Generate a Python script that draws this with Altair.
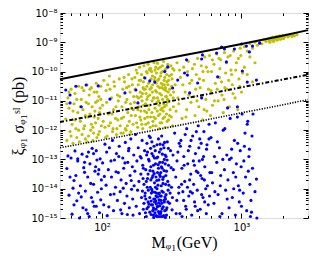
import altair as alt
import pandas as pd

# ---- data: (mass in GeV, log10 of xi*sigma in pb) ----
blue_pts = [
    (56,-13.31),(58,-14.22),(60,-12.95),(61,-14.87),(63,-13.72),(64,-12.71),(66,-14.41),(67,-13.05),(69,-15.0),(70,-13.9),
    (72,-12.82),(73,-14.65),(75,-13.44),(76,-14.08),(78,-12.9),(79,-13.6),(81,-14.95),(82,-13.15),(84,-14.3),(85,-12.62),
    (87,-13.85),(88,-14.6),(90,-13.25),(91,-12.7),(93,-14.12),(94,-13.5),(96,-14.82),(97,-12.98),(99,-13.7),(62,-13.98),
    (68,-14.15),(74,-13.28),(80,-12.75),(86,-14.45),(92,-13.02),(98,-14.38),(57,-12.88),(65,-13.55),(77,-14.72),(89,-13.4),
    (101,-13.12),(103,-14.55),(105,-12.48),(107,-13.88),(109,-14.92),(111,-13.35),(113,-12.6),(115,-14.2),(117,-13.6),(119,-12.35),
    (121,-14.75),(123,-13.02),(125,-13.95),(127,-12.8),(129,-14.4),(131,-13.45),(133,-12.55),(135,-14.1),(137,-13.7),(139,-14.85),
    (141,-12.95),(143,-13.3),(145,-14.5),(147,-12.42),(149,-13.82),(151,-14.25),(153,-13.1),(155,-12.7),(157,-14.65),(159,-13.55),
    (161,-12.3),(163,-14.02),(165,-13.25),(167,-14.9),(169,-12.85),
    (59,-13.6),(63,-14.55),(67,-12.98),(71,-14.28),(75,-13.1),(79,-14.85),(83,-13.82),(87,-12.8),(91,-14.6),(95,-13.35),
    (99,-14.0),(104,-13.58),(108,-12.75),(112,-14.62),(116,-13.05),(122,-14.18),(126,-13.42),(132,-12.9),(136,-14.72),(142,-13.98),
    (146,-13.12),(152,-14.88),(156,-12.62),(162,-13.72),(166,-14.35),(170,-13.9),
    (172,-13.4),(174,-12.15),(176,-14.6),(178,-13.05),(180,-14.05),(182,-12.6),(184,-13.75),(186,-14.85),(188,-12.9),(190,-13.5),
    (192,-14.3),(194,-12.35),(196,-13.2),(198,-14.7),(200,-13.85),(202,-12.7),(204,-14.15),(206,-13.35),(208,-14.95),(210,-12.45),
    (212,-13.65),(214,-14.45),(216,-13.0),(218,-12.2),(220,-14.8),(222,-13.95),(224,-13.25),(226,-14.55),(228,-12.8),(230,-14.1),
    (232,-13.55),(234,-14.9),(236,-12.55),(238,-13.8),(240,-14.35),(242,-13.15),(244,-14.7),(246,-12.95),(248,-14.0),(250,-13.45),
    (252,-14.6),(254,-12.3),(256,-13.7),(258,-14.85),(260,-13.1),(262,-14.25),(264,-12.65),(266,-13.9),(268,-14.5),(270,-13.3),
    (272,-14.95),(274,-12.5),(276,-13.6),(278,-14.4),(280,-13.0),(282,-14.75),(284,-12.85),(286,-13.85),(288,-14.2),(290,-13.4),
    (292,-14.65),(294,-12.4),(296,-13.75),(298,-14.05),(300,-13.2),(305,-14.5),(310,-12.7),(315,-13.95),(320,-14.3),(325,-13.35),
    (215,-14.62),(225,-14.88),(235,-14.35),(245,-14.92),(255,-14.48),(265,-14.78),(275,-14.12),(285,-14.98),(230,-14.55),(250,-14.28),
    (270,-14.68),(240,-14.82),(260,-14.58),(220,-14.3),(210,-14.68),(280,-14.45),(290,-14.9),(200,-14.5),(195,-14.08),(246,-14.15),
    (256,-14.95),(236,-14.7),(266,-14.25),(226,-14.15),(206,-14.35),
    (214,-13.5),(224,-13.7),(234,-13.2),(244,-13.6),(254,-13.3),(264,-13.45),(274,-13.82),(284,-13.15),(238,-12.95),(248,-12.5),
    (258,-12.75),(268,-12.2),(228,-12.4),(218,-13.05),(208,-13.75),(278,-12.6),(288,-12.9),(198,-13.3),(242,-13.95),(262,-13.58),
    (252,-13.88),(232,-13.4),(272,-13.1),(222,-12.25),(212,-12.75),
    (191,-12.95),(197,-13.65),(203,-14.25),(209,-12.85),(211,-13.95),(217,-14.52),(221,-13.38),(223,-12.62),(227,-14.02),(229,-13.62),
    (231,-14.75),(233,-12.88),(237,-13.48),(239,-14.12),(241,-12.7),(243,-14.42),(247,-13.72),(249,-14.62),(251,-12.92),(253,-13.18),
    (257,-14.38),(259,-13.52),(261,-12.48),(263,-14.85),(267,-13.25),(269,-14.08),(271,-12.82),(273,-13.68),(277,-14.92),(279,-13.38),
    (281,-12.42),(283,-14.28),(287,-13.55),(289,-14.72),(293,-13.02),(297,-14.45),(299,-12.62),(302,-13.88),(308,-14.15),(313,-13.28),
    (318,-14.72),(323,-12.85),(205,-14.82),(215,-14.05),(225,-14.42),(235,-14.98),(245,-14.52),(255,-14.18),(265,-14.95),(275,-14.62),
    (285,-14.35),(244,-14.25),(254,-14.78),(234,-14.65),(264,-14.4),(248,-14.95),(258,-14.15),(238,-14.45),
    (332,-12.1),(338,-13.6),(344,-14.4),(350,-12.75),(356,-13.95),(362,-14.85),(368,-12.35),(374,-13.3),(380,-14.1),(386,-12.9),
    (392,-13.75),(398,-14.6),(405,-11.95),(412,-13.15),(419,-14.25),(426,-12.55),(433,-13.5),(440,-14.9),(447,-12.2),(454,-13.85),
    (461,-14.45),(468,-12.8),(475,-13.4),(482,-14.05),(490,-11.85),(498,-13.05),(506,-14.7),(514,-12.45),(522,-13.65),(530,-14.3),
    (538,-12.05),(546,-13.25),(554,-14.0),(562,-12.65),(570,-13.9),(578,-14.55),(586,-11.8),(594,-13.45),(345,-13.05),(365,-12.55),
    (385,-14.4),(410,-13.95),(435,-12.35),(460,-13.2),(485,-14.75),(510,-13.55),(535,-12.9),(560,-14.85),(585,-12.3),(355,-14.15),
    (395,-12.15),(445,-14.15),(495,-12.6),(545,-14.45),(375,-14.95),(425,-13.7),(475,-12.05),(525,-13.0),
    (340,-14.85),(358,-12.45),(372,-13.85),(388,-13.2),(402,-14.7),(416,-12.7),(430,-14.1),(452,-13.05),(466,-14.6),(488,-13.45),
    (502,-12.3),(518,-14.2),(542,-13.7),(566,-12.5),(590,-14.25),(612,-13.45),(645,-14.1),(672,-12.4),(705,-13.9),(735,-13.0),
    (790,-14.35),(850,-12.65),(910,-13.6),(970,-14.05),(1040,-13.05),(1140,-12.65),(1200,-13.3),(1160,-14.95),
    (605,-12.25),(620,-13.8),(635,-14.5),(650,-11.75),(665,-13.1),(680,-14.2),(695,-12.6),(710,-13.55),(725,-14.85),(740,-12.0),
    (755,-13.35),(770,-14.05),(785,-12.85),(800,-13.7),(815,-14.65),(830,-11.6),(845,-12.95),(860,-14.3),(875,-13.45),(890,-12.35),
    (905,-14.9),(920,-13.15),(935,-11.55),(950,-13.9),(965,-14.45),(980,-12.7),(995,-13.25),(1010,-11.45),(1030,-14.15),(1050,-12.55),
    (1070,-13.6),(1090,-14.75),(1110,-11.7),(1130,-12.9),(1150,-13.85),(1170,-14.4),(1190,-12.2),(1210,-11.45),(1250,-14.1),(1290,-15.0),
    (640,-12.9),(700,-14.95),(760,-11.95),(820,-13.0),(880,-14.0),(940,-12.45),(1000,-14.6),(1060,-12.1),(1120,-13.4),(1180,-14.8),
    (1280,-13.67),(1100,-11.8),
]

blue_high_pts = [
    (55,-10.63),(59,-10.8),(65,-10.5),(71,-11.2),(77,-10.46),(94,-10.49),(114,-10.94),(146,-10.73),(175,-10.63),(181,-11.07),
    (203,-10.22),(220,-10.32),(239,-10.36),(282,-10.0),(296,-9.84),(321,-10.56),(349,-10.29),(391,-10.05),(59,-11.07),
    (404,-9.6),(518,-9.57),(663,-9.37),(755,-9.23),(1000,-9.06),(1140,-9.33),(780,-9.67),(1015,-9.98),(1280,-10.29),(1100,-10.36),
    (675,-10.18),(410,-10.12),(485,-10.39),(935,-11.2),(795,-11.24),(518,-10.9),(425,-10.73),(525,-9.43),(720,-9.16),(890,-9.23),
    (1085,-9.13),(1200,-9.13),(1350,-9.03),
]

yellow_pts = [
    (55,-11.62),(56,-12.35),(57,-10.9),(58,-11.25),(59,-12.05),(60,-10.6),(61,-11.8),(62,-12.45),(63,-11.1),(64,-10.75),
    (65,-11.95),(66,-12.25),(67,-11.4),(68,-10.5),(69,-12.4),(70,-11.7),(71,-10.95),(72,-12.15),(73,-11.3),(74,-10.65),
    (75,-11.85),(76,-12.3),(77,-11.05),(78,-10.45),(79,-11.55),(80,-12.2),(81,-10.8),(82,-11.45),(83,-12.0),(84,-10.55),
    (85,-11.2),(86,-11.9),(87,-12.1),(88,-10.7),(89,-11.35),(90,-11.75),(91,-10.4),(92,-12.25),(93,-11.0),(94,-11.6),
    (95,-10.85),(96,-12.05),(97,-11.25),(98,-10.5),(99,-11.85),
    (56,-11.1),(58,-10.7),(60,-12.2),(62,-11.35),(64,-11.65),(66,-10.95),(68,-12.0),(70,-11.2),(72,-10.55),(74,-11.95),
    (76,-11.5),(78,-12.4),(80,-11.1),(82,-10.6),(84,-11.8),(86,-12.35),(88,-11.55),(90,-11.05),(92,-10.7),(94,-12.15),
    (96,-11.4),(98,-10.95),
    (101,-11.15),(103,-10.3),(105,-11.9),(107,-10.65),(109,-12.2),(111,-11.45),(113,-10.15),(115,-11.75),(117,-10.9),(119,-12.05),
    (121,-11.3),(123,-10.5),(125,-11.6),(127,-12.15),(129,-10.8),(131,-11.0),(133,-10.25),(135,-11.85),(137,-12.1),(139,-11.2),
    (141,-10.6),(143,-11.55),(145,-10.35),(147,-11.95),(149,-12.0),(151,-10.95),(153,-11.4),(155,-10.1),(157,-11.7),(159,-10.7),
    (161,-12.05),(163,-11.25),(165,-10.45),(167,-11.8),(169,-10.85),(110,-10.45),(130,-11.65),(150,-10.55),(160,-11.1),(120,-11.95),
    (102,-11.7),(106,-12.25),(108,-11.05),(112,-11.85),(114,-10.6),(118,-11.45),(122,-10.35),(126,-11.2),(128,-11.95),(134,-10.85),
    (138,-11.6),(142,-12.1),(144,-10.2),(148,-11.05),(152,-11.85),(156,-10.5),(158,-12.15),(162,-11.5),(164,-10.25),(168,-11.3),
    (172,-10.2),(174,-11.5),(176,-9.95),(178,-10.85),(180,-11.9),(182,-10.45),(184,-11.2),(186,-9.85),(188,-10.7),(190,-11.65),
    (192,-10.1),(194,-11.0),(196,-11.95),(198,-10.35),(200,-9.8),(202,-11.35),(204,-10.6),(206,-11.8),(208,-10.0),(210,-10.95),
    (212,-11.55),(214,-9.75),(216,-10.4),(218,-11.15),(220,-10.8),(222,-11.9),(224,-9.9),(226,-10.55),(228,-11.4),(230,-10.15),
    (232,-11.7),(234,-10.9),(236,-9.7),(238,-10.3),(240,-11.25),(242,-10.65),(244,-11.85),(246,-10.05),(248,-11.05),(250,-9.72),
    (252,-10.5),(254,-11.5),(256,-10.25),(258,-11.95),(260,-10.75),(262,-9.85),(264,-11.3),(266,-10.4),(268,-11.75),(270,-10.0),
    (272,-10.95),(274,-11.6),(276,-9.65),(278,-10.6),(280,-11.2),(282,-10.2),(284,-11.9),(286,-10.85),(288,-9.9),(290,-11.45),
    (292,-10.35),(294,-11.05),(296,-9.75),(298,-10.7),(300,-11.65),(304,-10.15),(308,-11.3),(312,-9.8),(316,-10.5),(320,-11.85),
    (324,-10.9),(328,-9.95),
    (185,-10.3),(195,-10.75),(205,-11.1),(215,-11.75),(225,-10.25),(235,-11.55),(245,-10.4),(255,-11.0),(265,-10.05),(275,-11.35),
    (285,-10.55),(295,-10.95),(305,-11.5),(315,-10.1),(325,-11.2),(210,-10.5),(230,-10.7),(250,-10.9),(270,-10.55),(290,-10.85),
    (240,-9.95),(260,-11.45),(280,-10.45),(220,-9.9),(200,-10.6),(190,-11.35),(300,-10.3),(310,-10.8),
    (171,-11.05),(173,-10.6),(177,-11.75),(179,-10.05),(181,-11.3),(183,-10.9),(187,-11.55),(189,-10.3),(191,-10.85),(193,-11.8),
    (197,-10.55),(199,-11.15),(201,-10.2),(203,-11.6),(207,-10.75),(209,-11.4),(211,-10.05),(213,-10.85),(217,-11.3),(219,-9.95),
    (221,-10.6),(223,-11.55),(227,-10.0),(229,-11.0),(231,-10.45),(233,-11.85),(237,-10.9),(239,-10.2),(241,-11.6),(243,-9.85),
    (247,-10.7),(249,-11.35),(251,-10.3),(253,-9.9),(257,-11.15),(259,-10.55),(261,-11.75),(263,-10.15),(267,-10.8),(269,-11.25),
    (271,-9.8),(273,-10.45),(277,-11.1),(279,-10.3),(281,-11.55),(283,-9.95),(287,-10.65),(289,-11.15),(291,-10.1),(293,-11.7),
    (297,-10.45),(299,-9.85),(302,-11.0),(306,-10.6),(314,-11.55),(318,-10.25),(322,-9.9),(326,-10.7),
    (335,-10.45),(345,-9.7),(355,-11.1),(365,-10.2),(375,-11.6),(385,-9.85),(395,-10.7),(405,-11.3),(415,-9.65),(425,-10.4),
    (435,-11.05),(445,-9.9),(455,-10.85),(465,-11.5),(475,-10.1),(485,-9.55),(495,-11.2),(505,-10.55),(515,-9.8),(525,-11.65),
    (535,-10.3),(545,-9.5),(555,-10.95),(565,-11.35),(575,-10.0),(590,-9.45),(605,-10.65),(620,-11.15),(635,-9.75),(650,-10.4),
    (665,-9.4),(680,-11.0),(695,-10.2),(710,-9.6),(725,-10.8),(740,-11.4),(755,-9.35),(770,-10.05),(785,-10.6),(800,-9.5),
    (820,-11.2),(840,-9.95),(860,-10.45),(880,-9.3),(900,-10.9),(920,-9.7),(940,-11.3),(960,-10.25),(980,-9.2),(1000,-10.7),
    (350,-10.9),(410,-10.0),(470,-10.6),(530,-10.0),(600,-11.5),(700,-9.9),(850,-10.1),(950,-9.55),(620,-9.6),(760,-10.55),
    (340,-11.35),(360,-9.95),(380,-10.45),(400,-11.55),(420,-10.8),(440,-10.3),(460,-9.75),(480,-11.0),(500,-10.25),(520,-10.85),
    (540,-11.3),(560,-9.85),(580,-10.6),(610,-10.0),(640,-11.0),(670,-10.6),(690,-9.55),(720,-10.35),(750,-10.95),(780,-9.7),
    (810,-10.3),(830,-9.45),(870,-10.75),(910,-9.95),(970,-10.5),(990,-9.45),(1020,-10.05),
    (1050,-9.15),(1100,-9.3),(1150,-9.05),(1200,-9.2),(1250,-9.0),(1300,-9.1),(1350,-8.98),(1400,-9.05),(1450,-8.92),(1500,-8.97),
    (1550,-8.88),(1580,-8.95),(1620,-8.85),(1650,-8.92),(1680,-8.82),(1720,-8.9),(1750,-8.86),(1780,-8.8),(1820,-8.88),(1850,-8.83),
    (1880,-8.78),(1920,-8.86),(1950,-8.8),(1980,-8.76),(2020,-8.84),(2050,-8.79),(2100,-8.75),(2150,-8.82),(2200,-8.77),(2250,-8.73),
    (2300,-8.8),(2350,-8.76),(2400,-8.78),(2500,-8.74),(1600,-9.0),(1700,-8.97),(1800,-8.93),(1900,-8.9),(2000,-8.88),(1150,-9.5),
    (1250,-9.7),(1100,-10.1),(1200,-10.35),(1050,-9.85),
]

# limit curves
line_mass = [50, 100, 200, 500, 1000, 2000, 3000]
solid_sigma = [5.5e-11, 1.05e-10, 2.0e-10, 4.6e-10, 8.7e-10, 1.7e-9, 2.6e-9]
dashdot_sigma = [1.9e-12, 3.5e-12, 6.6e-12, 1.5e-11, 2.9e-11, 5.4e-11, 7.8e-11]
dotted_sigma = [2.5e-13, 4.6e-13, 8.5e-13, 2.0e-12, 3.9e-12, 7.4e-12, 1.1e-11]

# ticks
x_major = [100, 1000]
x_minor = [60, 70, 80, 90, 200, 300, 400, 500, 600, 700, 800, 900, 2000, 3000]
y_major = [1e-15, 1e-14, 1e-13, 1e-12, 1e-11, 1e-10, 1e-9, 1e-8]
y_minor = [k * 10.0 ** e for e in range(-15, -8) for k in range(2, 10)]
x_labels = ["10²", "10³"]
y_labels = ["10⁻¹⁵", "10⁻¹⁴", "10⁻¹³", "10⁻¹²", "10⁻¹¹", "10⁻¹⁰", "10⁻⁹", "10⁻⁸"]

W, H = 248, 205


def pts_df(pts):
    df = pd.DataFrame(pts, columns=["m", "ls"])
    df["s"] = 10.0 ** df["ls"]
    return df


df_blue = pd.concat([pts_df(blue_pts), pts_df(blue_high_pts)], ignore_index=True)
df_yellow = pts_df(yellow_pts)
df_lines = pd.DataFrame({"m": line_mass, "solid": solid_sigma, "dashdot": dashdot_sigma, "dotted": dotted_sigma})

xs = alt.Scale(type="log", domain=[50, 3000], nice=False)
ys = alt.Scale(type="log", domain=[1e-15, 1e-8], nice=False)

x_expr = "datum.value < 300 ? '%s' : '%s'" % tuple(x_labels)
y_expr = ""
for v, lab in zip(y_major[:-1], y_labels[:-1]):
    y_expr += "datum.value < %g ? '%s' : " % (v * 2, lab)
y_expr += "'%s'" % y_labels[-1]


def tick_axis(orient, values, size, offset):
    return alt.Axis(orient=orient, values=values, tickSize=size, offset=offset, labels=False,
                    domain=False, grid=False, tickColor="black", tickWidth=1)


x_lab_axis = alt.Axis(orient="bottom", values=x_major, ticks=False, domain=False, grid=False,
                      labelExpr=x_expr, labelFont="DejaVu Sans", labelFontSize=10, labelColor="black",
                      labelPadding=4, labelFlush=False,
                      titleFont="Liberation Serif", titleFontSize=16, titleFontWeight="normal",
                      titleColor="black", titlePadding=2)
y_lab_axis = alt.Axis(orient="left", values=y_major, ticks=False, domain=False, grid=False,
                      labelExpr=y_expr, labelFont="DejaVu Sans", labelFontSize=10, labelColor="black",
                      labelPadding=3, labelOverlap=False,
                      titleFont="Liberation Serif", titleFontSize=16, titleFontWeight="normal",
                      titleColor="black", titlePadding=4)

yellow = alt.Chart(df_yellow).mark_circle(size=10, opacity=1, color="#bfbf00").encode(
    x=alt.X("m:Q", scale=xs, axis=x_lab_axis, title="Mᵩ₁(GeV)"),
    y=alt.Y("s:Q", scale=ys, axis=y_lab_axis, title="ξᵩ₁ σᵩ₁ˢᴵ (pb)"),
)
blue = alt.Chart(df_blue).mark_circle(size=10, opacity=1, color="#0000ff").encode(
    x=alt.X("m:Q", scale=xs, axis=tick_axis("top", x_major, 5, -H), title=None),
    y=alt.Y("s:Q", scale=ys, axis=tick_axis("right", y_major, 5, -W), title=None),
)
solid = alt.Chart(df_lines).mark_line(color="black", strokeWidth=2).encode(
    x=alt.X("m:Q", scale=xs, axis=tick_axis("top", x_minor, 2.5, -H), title=None),
    y=alt.Y("solid:Q", scale=ys, axis=tick_axis("right", y_minor, 2.5, -W), title=None),
)
dashdot = alt.Chart(df_lines).mark_line(color="black", strokeWidth=2, strokeDash=[4, 2, 1.5, 2]).encode(
    x=alt.X("m:Q", scale=xs, axis=tick_axis("bottom", x_major, 5, -H), title=None),
    y=alt.Y("dashdot:Q", scale=ys, axis=tick_axis("left", y_major, 5, -W), title=None),
)
dotted = alt.Chart(df_lines).mark_line(color="black", strokeWidth=1.6, strokeDash=[1.2, 1.4]).encode(
    x=alt.X("m:Q", scale=xs, axis=tick_axis("bottom", x_minor, 2.5, -H), title=None),
    y=alt.Y("dotted:Q", scale=ys, axis=tick_axis("left", y_minor, 2.5, -W), title=None),
)

chart = alt.layer(yellow, blue, solid, dashdot, dotted).resolve_axis(
    x="independent", y="independent"
).properties(
    width=W, height=H,
    autosize=alt.AutoSizeParams(type="none"),
    padding={"left": 52, "top": 5, "right": 1, "bottom": 38},
).configure_view(stroke="black", strokeWidth=1).configure(background="white")

chart.save("out.html", embed_options={"renderer": "svg", "actions": False})
